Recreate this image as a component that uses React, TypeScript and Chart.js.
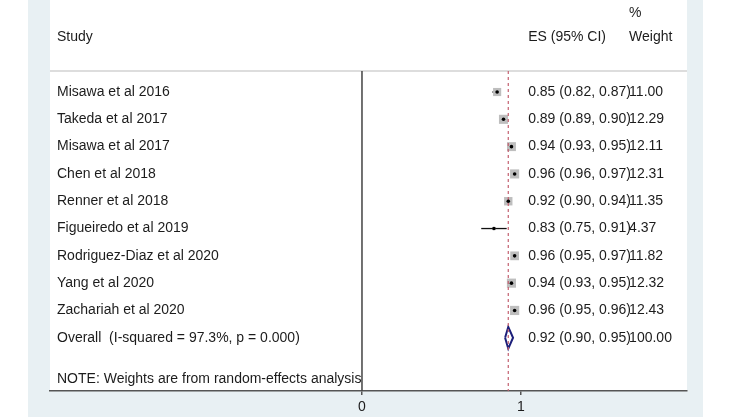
import React, { useEffect, useRef } from 'react';
import { Chart, registerables } from 'chart.js';

Chart.register(...registerables);

// ---- data ----
const STUDIES = [
  'Misawa et al 2016',
  'Takeda et al 2017',
  'Misawa et al 2017',
  'Chen et al 2018',
  'Renner et al 2018',
  'Figueiredo et al 2019',
  'Rodriguez-Diaz et al 2020',
  'Yang et al 2020',
  'Zachariah et al 2020',
];
const ES = [0.85, 0.89, 0.94, 0.96, 0.92, 0.83, 0.96, 0.94, 0.96];
const LO = [0.82, 0.89, 0.93, 0.96, 0.9, 0.75, 0.95, 0.93, 0.95];
const HI = [0.87, 0.9, 0.95, 0.97, 0.94, 0.91, 0.97, 0.95, 0.96];
const WEIGHT = [11.0, 12.29, 12.11, 12.31, 11.35, 4.37, 11.82, 12.32, 12.43];
const OVERALL_ES = 0.92;
const OVERALL_LO = 0.9;
const OVERALL_HI = 0.95;
const OVERALL_WEIGHT = 100.0;
const OVERALL_LABEL = 'Overall  (I-squared = 97.3%, p = 0.000)';
const NOTE_LABEL = 'NOTE: Weights are from random-effects analysis';
const HEADER_STUDY = 'Study';
const HEADER_ES = 'ES (95% CI)';
const HEADER_PCT = '%';
const HEADER_WEIGHT = 'Weight';
const X_TICKS = [0, 1];
const NULL_LINE = 0;

// ---- layout constants ----
const W = 733;
const H = 417;
const X_MIN = -1.962;
const X_MAX = 2.044;
const Y_MIN = -3.37;
const Y_MAX = 10.95;
const SEP_Y = -0.77;
const HEADER_Y = -2.0;
const PCT_Y = -2.9;
const ES_COL = 1.045;
const WT_COL = 1.68;
const FONT = "'Liberation Sans', Arial, Helvetica, sans-serif";
const TEXT_COLOR = '#1c1c1c';
const BAND_COLOR = '#e8f0f3';

const OVERALL_ROW = STUDIES.length;
const NOTE_ROW = STUDIES.length + 1.5;

const fmtCI = (e: number, l: number, h: number) =>
  `${e.toFixed(2)} (${l.toFixed(2)}, ${h.toFixed(2)})`;

const bgPlugin = {
  id: 'bg',
  beforeDraw(chart: any) {
    const { ctx, chartArea } = chart;
    ctx.save();
    ctx.fillStyle = '#ffffff';
    ctx.fillRect(0, 0, W, H);
    ctx.fillStyle = BAND_COLOR;
    ctx.fillRect(chartArea.left - 22, 0, chartArea.right - chartArea.left + 38, H);
    ctx.fillStyle = '#ffffff';
    ctx.fillRect(chartArea.left, 0, chartArea.right - chartArea.left, chartArea.bottom);
    // header separator
    const yS = chart.scales.y.getPixelForValue(SEP_Y);
    ctx.strokeStyle = '#dddddd';
    ctx.lineWidth = 2;
    ctx.beginPath();
    ctx.moveTo(chartArea.left, yS);
    ctx.lineTo(chartArea.right, yS);
    ctx.stroke();
    ctx.restore();
  },
};

const textPlugin = {
  id: 'texts',
  afterDatasetsDraw(chart: any) {
    const { ctx, chartArea } = chart;
    const xs = chart.scales.x;
    const ys = chart.scales.y;
    const xStudy = chartArea.left + 7;
    const xEs = xs.getPixelForValue(ES_COL);
    const xWt = xs.getPixelForValue(WT_COL);
    ctx.save();
    ctx.font = `14px ${FONT}`;
    ctx.fillStyle = TEXT_COLOR;
    ctx.textBaseline = 'middle';
    ctx.textAlign = 'left';
    const put = (t: string, x: number, row: number) => ctx.fillText(t, x, ys.getPixelForValue(row));
    put(HEADER_STUDY, xStudy, HEADER_Y);
    put(HEADER_ES, xEs, HEADER_Y);
    put(HEADER_PCT, xWt, PCT_Y);
    put(HEADER_WEIGHT, xWt, HEADER_Y);
    STUDIES.forEach((s, i) => {
      put(s, xStudy, i);
      put(fmtCI(ES[i], LO[i], HI[i]), xEs, i);
      put(WEIGHT[i].toFixed(2), xWt, i);
    });
    put(OVERALL_LABEL, xStudy, OVERALL_ROW);
    put(fmtCI(OVERALL_ES, OVERALL_LO, OVERALL_HI), xEs, OVERALL_ROW);
    put(OVERALL_WEIGHT.toFixed(2), xWt, OVERALL_ROW);
    put(NOTE_LABEL, xStudy, NOTE_ROW);
    ctx.restore();
  },
};

export default function App() {
  const ref = useRef<HTMLCanvasElement | null>(null);

  useEffect(() => {
    if (!ref.current) return;
    const datasets: any[] = [];

    // dots (top)
    datasets.push({
      type: 'scatter',
      data: ES.map((e, i) => ({ x: e, y: i })),
      pointStyle: 'circle',
      pointRadius: 1.8,
      backgroundColor: '#000000',
      borderWidth: 0,
      order: 0,
    });
    // boxes
    datasets.push({
      type: 'scatter',
      data: ES.map((e, i) => ({ x: e, y: i })),
      pointStyle: 'rect',
      pointRadius: WEIGHT.map((w) => (0.74 * w) / Math.SQRT2),
      backgroundColor: '#bebebe',
      borderWidth: 0,
      order: 1,
    });
    // CI lines
    STUDIES.forEach((_, i) => {
      datasets.push({
        type: 'line',
        data: [
          { x: LO[i], y: i },
          { x: HI[i], y: i },
        ],
        borderColor: '#111111',
        borderWidth: 1.3,
        pointRadius: 0,
        fill: false,
        order: 2,
      });
    });
    // overall diamond
    datasets.push({
      type: 'line',
      data: [
        { x: OVERALL_LO, y: OVERALL_ROW },
        { x: OVERALL_ES, y: OVERALL_ROW - 0.4 },
        { x: OVERALL_HI, y: OVERALL_ROW },
        { x: OVERALL_ES, y: OVERALL_ROW + 0.4 },
        { x: OVERALL_LO, y: OVERALL_ROW },
      ],
      borderColor: '#1c1f7a',
      borderWidth: 2,
      pointRadius: 0,
      fill: false,
      tension: 0,
      order: 1,
    });
    // overall dashed line
    datasets.push({
      type: 'line',
      data: [
        { x: OVERALL_ES, y: SEP_Y },
        { x: OVERALL_ES, y: Y_MAX },
      ],
      borderColor: '#c46070',
      borderWidth: 1.2,
      borderDash: [3, 3],
      pointRadius: 0,
      fill: false,
      order: 0,
    });
    // null line
    datasets.push({
      type: 'line',
      data: [
        { x: NULL_LINE, y: SEP_Y },
        { x: NULL_LINE, y: Y_MAX },
      ],
      borderColor: '#444444',
      borderWidth: 1.5,
      pointRadius: 0,
      fill: false,
      order: 3,
    });

    const chart = new Chart(ref.current, {
      type: 'scatter',
      data: { datasets },
      options: {
        animation: false,
        responsive: false,
        maintainAspectRatio: false,
        events: [],
        layout: { autoPadding: false, padding: { left: 50, right: 46, top: 0, bottom: 0 } },
        plugins: { legend: { display: false }, tooltip: { enabled: false } },
        scales: {
          x: {
            type: 'linear',
            min: X_MIN,
            max: X_MAX,
            afterBuildTicks: (s: any) => {
              s.ticks = X_TICKS.map((v) => ({ value: v }));
            },
            afterFit: (s: any) => {
              s.height = 26;
            },
            grid: {
              display: true,
              drawOnChartArea: false,
              drawTicks: true,
              tickLength: 4,
              color: '#555555',
              lineWidth: 1.5,
            },
            border: { display: true, color: '#555555', width: 1.5 },
            ticks: {
              font: { family: FONT, size: 14 },
              color: TEXT_COLOR,
              padding: 4,
              autoSkip: false,
              maxRotation: 0,
              callback: (v: any) => String(v),
            },
          },
          y: {
            type: 'linear',
            display: false,
            reverse: true,
            min: Y_MIN,
            max: Y_MAX,
          },
        },
      } as any,
      plugins: [bgPlugin, textPlugin],
    });
    return () => chart.destroy();
  }, []);

  return (
    <div style={{ position: 'fixed', left: 0, top: 0, width: W, height: H }}>
      <canvas ref={ref} width={W} height={H} style={{ display: 'block', width: W, height: H }} />
    </div>
  );
}
